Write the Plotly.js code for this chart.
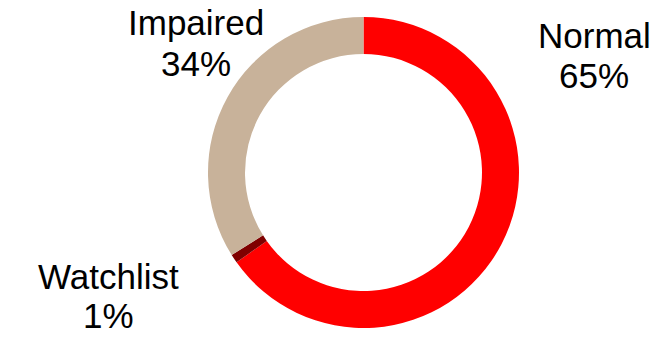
<!DOCTYPE html>
<html>
<head>
<meta charset="utf-8">
<script src="https://cdn.plot.ly/plotly-3.0.1.min.js"></script>
<style>html,body{margin:0;padding:0;background:#fff;}#chart{width:664px;height:338px;}</style>
</head>
<body>
<div id="chart"></div>
<script>
var categories = ["Normal", "Watchlist", "Impaired"];
var values = [65.2, 0.9, 33.9];
var pctLabels = ["65%", "1%", "34%"];
var colors = ["#FF0000", "#7F0000", "#C8B29A"];

var W = 664, H = 338;
var cx = 363.5, cy = 172.5, R = 155.5;

// label centre x and the baselines of the two lines (pixels from top)
var labelPos = {
  "Normal":    {x: 594, b1: 47, b2: 86},
  "Watchlist": {x: 108, b1: 287, b2: 326},
  "Impaired":  {x: 196, b1: 33, b2: 75}
};

var font = {family: "Liberation Sans", size: 35, color: "#000000"};
var annotations = [];
categories.forEach(function (c, i) {
  var p = labelPos[c];
  [[c, p.b1], [pctLabels[i], p.b2]].forEach(function (ln) {
    annotations.push({
      xref: "paper", yref: "paper",
      x: p.x / W, y: 1 - (ln[1] - 11) / H,
      xanchor: "center", yanchor: "middle",
      text: ln[0], showarrow: false, font: font
    });
  });
});

var trace = {
  type: "pie",
  labels: categories,
  values: values,
  hole: 0.762,
  sort: false,
  direction: "clockwise",
  rotation: 0,
  textinfo: "none",
  hoverinfo: "label+percent",
  marker: {colors: colors, line: {width: 0}},
  domain: {
    x: [(cx - R) / W, (cx + R) / W],
    y: [1 - (cy + R) / H, 1 - (cy - R) / H]
  },
  showlegend: false
};

var layout = {
  width: W, height: H,
  margin: {l: 0, r: 0, t: 0, b: 0},
  paper_bgcolor: "#ffffff",
  plot_bgcolor: "#ffffff",
  showlegend: false,
  annotations: annotations
};

Plotly.newPlot("chart", [trace], layout, {displayModeBar: false, staticPlot: true});
</script>
</body>
</html>
